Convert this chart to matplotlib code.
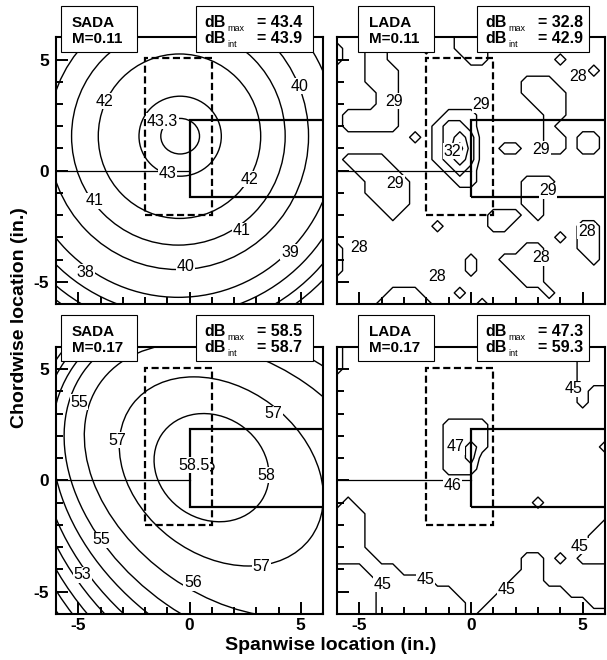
import numpy as np
import matplotlib
matplotlib.use('Agg')
import matplotlib.pyplot as plt
from matplotlib.patches import Ellipse, Rectangle

plt.rcParams['font.family'] = ['Liberation Sans', 'DejaVu Sans']
plt.rcParams['axes.unicode_minus'] = False

W, H = 607, 660

# ---------------- SADA, M=0.11 : one ellipse per contour level
s11_lev = [43.3, 43, 42, 41, 40, 39, 38, 37, 36]
s11_cx = [-0.42, -0.42, -0.45, -0.5, -0.5, -0.5, -0.5, -0.5, -0.5]
s11_cy = [1.55, 1.55, 1.55, 1.55, 1.55, 1.55, 1.55, 1.55, 1.55]
s11_rx = [0.87, 1.85, 3.65, 4.8, 5.85, 7.1, 7.9, 8.6, 9.1]
s11_ry = [0.8, 1.8, 3.7, 4.9, 6.0, 7.25, 8.05, 8.75, 9.25]
s11_ang = [0, 0, 0, 0, 0, 0, 0, 0, 0]
s11_lab = ['42', '43.3', '43', '41', '40', '40', '38', '42', '41', '39']
s11_lx = [-3.83, -1.21, -0.99, -4.28, -0.19, 4.96, -4.66, 2.71, 2.34, 4.51]
s11_ly = [3.13, 2.23, -0.12, -1.36, -4.3, 3.8, -4.57, -0.39, -2.7, -3.68]

# ---------------- SADA, M=0.17
s17_lev = [58.5, 58, 57, 56, 55, 54, 53, 52, 51, 50, 49, 48]
s17_cx = [0.92, 0.99, 1.43, 2.2, 2.6, 2.9, 3.15, 3.4, 3.65, 3.9, 4.15, 4.4]
s17_cy = [0.61, 0.57, 0.4, 0.0, -0.3, -0.55, -0.8, -1.05, -1.3, -1.55, -1.8, -2.05]
s17_rx = [0.18, 2.69, 5.0, 7.6, 9.0, 9.9, 10.7, 11.4, 12.1, 12.8, 13.5, 14.2]
s17_ry = [0.18, 2.31, 3.75, 5.3, 6.4, 7.2, 7.9, 8.5, 9.1, 9.65, 10.2, 10.7]
s17_ang = [0, -33, -37, -35, -35, -35, -35, -35, -35, -35, -35, -35]
s17_lab = ['55', '57', '58.5', '58', '57', '55', '53', '56', '57']
s17_lx = [-4.96, -3.24, 0.18, 3.46, 3.76, -3.98, -4.81, 0.15, 3.24]
s17_ly = [3.51, 1.8, 0.68, 0.24, 2.99, -2.67, -4.23, -4.6, -3.86]

# ---------------- LADA maps, 0.5 in. cells, x = -6..6, rows from y = 6 down to y = -6
# digit d -> level base + d
l11_base = 27.5
l11_lev = [28, 29, 30, 31, 32]
l11_rows = [
    "1112211221122211111111111",
    "2112211121122211111111111",
    "2112211111112211111101111",
    "1112221111111111111111101",
    "1112221111111111122211111",
    "1111221111111111122221111",
    "1111221111111111112221111",
    "1222221111222111111221111",
    "1222221112332111111211111",
    "1111111212343111111221221",
    "1111111112353112211221221",
    "1222211112343111111111111",
    "1122221111232111111111111",
    "1112222111122111122211111",
    "1112222111111111122111111",
    "1111222111111111122111111",
    "1111121111111122212111111",
    "1111111110111122111111001",
    "1111111111111111111101001",
    "0111111111111111100111001",
    "0111111111110110000111101",
    "0111111111110111000111111",
    "1111111111111111100111111",
    "1111100011101111111011111",
    "1111000001111011111111111",
]
l11_lab = ['29', '29', '32', '29', '28', '29', '29', '28', '28', '28', '28']
l11_lx = [-3.45, 0.45, -0.83, 3.15, 4.8, -3.38, 3.45, -5.03, -1.5, 3.15, 5.18]
l11_ly = [3.12, 2.97, 0.88, 0.96, 4.25, -0.57, -0.9, -3.48, -4.75, -3.93, -2.73]

l17_base = 44.5
l17_lev = [45, 46, 47]
l17_rows = [
    "0111111111111111111111000",
    "0111111111111111111111000",
    "0111111111111111111111000",
    "1111111111111111111111000",
    "1111111111111111111111011",
    "1111111111111111111111011",
    "1111111111111111111111111",
    "1111111111222211111111111",
    "1111111111222211111111111",
    "1111111111223211111111112",
    "1111111111223111111111111",
    "1111111111222111111111111",
    "1111111111111111111111111",
    "1111111111111111111111111",
    "1011111111111111112111111",
    "0001111111111111111111111",
    "0001111111111111111111110",
    "0001111111111111111111100",
    "0001111111111111111111100",
    "0000111111111111100101000",
    "1110001111111111100111111",
    "1111000001111111000111111",
    "1111000000011110000001111",
    "1111000000001100000000011",
    "1111000000001000000000000",
]
l17_lab = ['45', '47', '46', '45', '45', '45', '45']
l17_lx = [4.58, -0.68, -0.83, 4.88, -3.98, -2.03, 1.58]
l17_ly = [4.11, 1.5, -0.21, -2.96, -4.67, -4.45, -4.9]

# panel boxes
names = ['SADA\nM=0.11', 'LADA\nM=0.11', 'SADA\nM=0.17', 'LADA\nM=0.17']
db_max = ['43.4', '32.8', '58.5', '47.3']
db_int = ['43.9', '42.9', '58.7', '59.3']

# axes positions in pixels: left, top, width, height
pos = [(56, 37.3, 267, 266.7), (337, 37.3, 268, 266.7),
       (56, 346.7, 267, 267.3), (337, 346.7, 268, 267.3)]

fig = plt.figure(figsize=(W / 100, H / 100), dpi=100)


def fx(x):
    return x / W


def fy(y):
    return 1 - y / H


def label_text(ax, xs, ys, labs):
    for x, y, s in zip(xs, ys, labs):
        ax.text(x, y, s, ha='center', va='center', fontsize=11.5, zorder=6,
                bbox=dict(facecolor='white', edgecolor='none', pad=0.4))


def ellipses(ax, cx, cy, rx, ry, ang):
    for a, b, c, d, e in zip(cx, cy, rx, ry, ang):
        ax.add_patch(Ellipse((a, b), 2 * c, 2 * d, angle=e, fill=False,
                             lw=1.0, color='k', zorder=2))


def lada(ax, rows, base, lev):
    g = np.linspace(-6, 6, 25)
    z = np.array([[int(c) for c in r] for r in rows][::-1], dtype=float) + base
    ax.contour(g, g, z, levels=lev, colors='k', linewidths=1.0, zorder=2)


axes = []
for k, (l, t, w, h) in enumerate(pos):
    ax = fig.add_axes([fx(l), fy(t + h), w / W, h / H])
    ax.set_xlim(-6, 6)
    ax.set_ylim(-6, 6)
    ax.set_xticks([-5, 0, 5])
    ax.set_yticks([-5, 0, 5])
    ax.set_xticks([-4, -3, -2, -1, 1, 2, 3, 4], minor=True)
    ax.set_yticks([-4, -3, -2, -1, 1, 2, 3, 4], minor=True)
    ax.tick_params(which='both', direction='in', top=False, right=False, width=1.4)
    ax.tick_params(which='major', length=8.9, labelsize=12.5)
    ax.tick_params(which='minor', length=5.3)
    ax.tick_params(axis='y', pad=5)
    ax.tick_params(axis='x', pad=3)
    if k < 2:
        ax.tick_params(labelbottom=False)
    if k % 2 == 1:
        ax.tick_params(labelleft=False)
    for lb in ax.get_xticklabels() + ax.get_yticklabels():
        lb.set_fontweight('bold')
    for sp in ax.spines.values():
        sp.set_linewidth(1.5)

    # geometry overlays
    ax.plot([-6, 0], [0, 0], color='k', lw=0.9, zorder=3)
    ax.add_patch(Rectangle((0, -1.2), 6.5, 3.5, fill=False, lw=1.6,
                           color='k', zorder=4))
    ax.add_patch(Rectangle((-2, -2), 3, 7.05, fill=False, lw=1.6, color='k',
                           ls=(0, (3.2, 1.6)), zorder=4))

    # text boxes
    dx = 0 if k % 2 == 0 else 16
    fig.patches.append(Rectangle((fx(l + 5 + dx), fy(t + 14.7)), 76 / W, 46 / H,
                                 transform=fig.transFigure, facecolor='white',
                                 edgecolor='k', lw=0.8, zorder=10))
    fig.text(fx(l + 15.7 + dx), fy(t - 10.6), names[k].split('\n')[0],
             fontsize=11, weight='bold', va='baseline', zorder=11)
    fig.text(fx(l + 15.7 + dx), fy(t + 5.4), names[k].split('\n')[1],
             fontsize=11, weight='bold', va='baseline', zorder=11)
    bw = 117 if k % 2 == 0 else 112.6
    fig.patches.append(Rectangle((fx(l + 139.5), fy(t + 14.7)), bw / W, 46 / H,
                                 transform=fig.transFigure, facecolor='white',
                                 edgecolor='k', lw=0.8, zorder=10))
    for yy, sub, val in [(-10.6, 'max', db_max[k]), (5.4, 'int', db_int[k])]:
        fig.text(fx(l + 148.5), fy(t + yy), 'dB', fontsize=11.5, weight='bold',
                 va='baseline', zorder=11)
        fig.text(fx(l + 171), fy(t + yy + 4), sub, fontsize=6.5,
                 va='baseline', zorder=11)
        fig.text(fx(l + 201), fy(t + yy), '= ' + val, fontsize=11.5,
                 weight='bold', va='baseline', zorder=11)
    axes.append(ax)

ellipses(axes[0], s11_cx, s11_cy, s11_rx, s11_ry, s11_ang)
label_text(axes[0], s11_lx, s11_ly, s11_lab)

lada(axes[1], l11_rows, l11_base, l11_lev)
label_text(axes[1], l11_lx, l11_ly, l11_lab)

ellipses(axes[2], s17_cx, s17_cy, s17_rx, s17_ry, s17_ang)
label_text(axes[2], s17_lx, s17_ly, s17_lab)

lada(axes[3], l17_rows, l17_base, l17_lev)
label_text(axes[3], l17_lx, l17_ly, l17_lab)

fig.text(fx(331), fy(645), 'Spanwise location (in.)', ha='center', va='center',
         fontsize=14, weight='bold')
fig.text(fx(20), fy(318), 'Chordwise location (in.)', ha='center', va='center',
         fontsize=14, weight='bold', rotation=90)

fig.savefig('out.png', dpi=100)
